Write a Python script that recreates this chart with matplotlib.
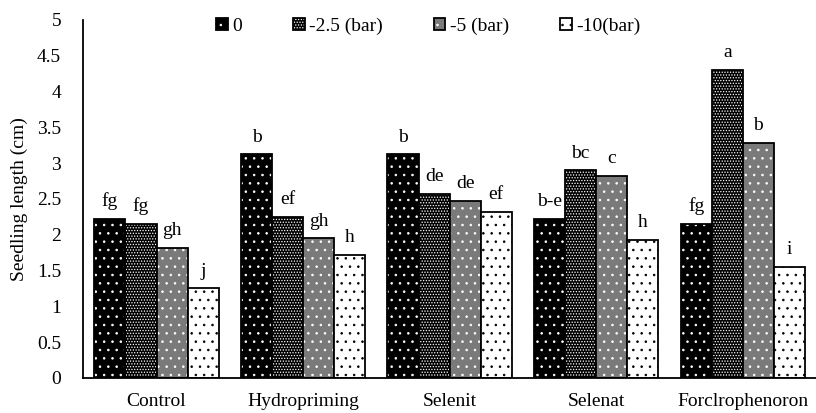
import matplotlib.pyplot as plt
import numpy as np
from matplotlib.patches import Patch
from matplotlib.legend_handler import HandlerTuple

plt.rcParams['font.family'] = ['Liberation Serif', 'DejaVu Serif']
plt.rcParams['hatch.linewidth'] = 0.6

categories = ['Control', 'Hydropriming', 'Selenit', 'Selenat', 'Forclrophenoron']
series = ['0', '-2.5 (bar)', '-5 (bar)', '-10(bar)']
values = [
    [2.22, 3.12, 3.12, 2.22, 2.15],   # 0
    [2.15, 2.25, 2.57, 2.90, 4.30],   # -2.5
    [1.82, 1.95, 2.47, 2.82, 3.28],   # -5
    [1.25, 1.72, 2.32, 1.93, 1.55],   # -10
]
letters = [
    ['fg', 'b', 'b', 'b-e', 'fg'],
    ['fg', 'ef', 'de', 'bc', 'a'],
    ['gh', 'gh', 'de', 'c', 'b'],
    ['j', 'h', 'ef', 'h', 'i'],
]

# face colour, hatch colour, hatch pattern
styles = [
    ('black', 'white', '..'),
    ('black', 'white', '......'),
    ('#7a7a7a', 'white', '..'),
    ('white', 'black', '..'),
]

fig = plt.figure(figsize=(8.16, 4.13), dpi=100)
ax = fig.add_axes([0.102, 0.085, 0.898, 0.867])

x = np.arange(len(categories))
w = 0.212
for i, vals in enumerate(values):
    pos = x + (i - 1.5) * w
    fc, hc, h = styles[i]
    ax.bar(pos, vals, w, color=fc, edgecolor=hc, hatch=h, linewidth=0)
    ax.bar(pos, vals, w, color='none', edgecolor='black', linewidth=1.3)
    for p, v, t in zip(pos, vals, letters[i]):
        ax.text(p, v + 0.12, t, ha='center', va='bottom', fontsize=14)

ax.set_xlim(-0.5, len(categories) - 0.5)
ax.set_ylim(0, 5)
ax.set_yticks(np.arange(0, 5.01, 0.5))
ax.set_yticklabels(['0', '0.5', '1', '1.5', '2', '2.5', '3', '3.5', '4', '4.5', '5'])
ax.set_xticks(x)
ax.set_xticklabels(categories)
ax.tick_params(axis='both', length=0, labelsize=14)
ax.tick_params(axis='x', pad=11)
ax.tick_params(axis='y', pad=16)
ax.set_ylabel('Seedling length (cm)', fontsize=14, labelpad=6)
for s in ['top', 'right']:
    ax.spines[s].set_visible(False)
ax.spines['left'].set_linewidth(1.3)
ax.spines['bottom'].set_linewidth(1.3)

handles = []
for fc, hc, h in styles:
    handles.append((Patch(facecolor=fc, edgecolor=hc, hatch=h, linewidth=0),
                    Patch(facecolor='none', edgecolor='black', linewidth=1.3)))
leg = fig.legend(handles, series, loc='upper center', bbox_to_anchor=(0.525, 1.0), ncol=4,
                 frameon=False, fontsize=14, handlelength=0.6, handleheight=0.6,
                 handletextpad=0.25, columnspacing=2.6,
                 handler_map={tuple: HandlerTuple(ndivide=1)})

fig.savefig('out.png', dpi=100)
